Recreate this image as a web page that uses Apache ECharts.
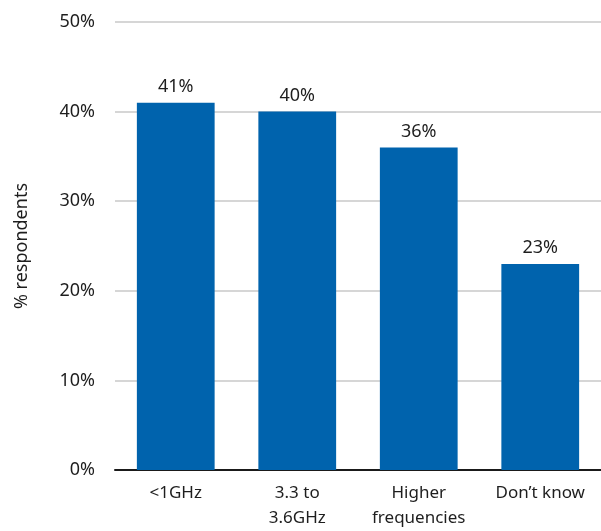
<!DOCTYPE html>
<html>
<head>
<meta charset="utf-8">
<script src="https://cdn.jsdelivr.net/npm/echarts@6/dist/echarts.min.js"></script>
<style>
  html, body { margin: 0; padding: 0; background: #fff; }
  #chart { width: 601px; height: 531px; }
</style>
</head>
<body>
<div id="chart"></div>
<script>
// Spectrum bands and share of respondents (%)
const categories = ['<1GHz', '3.3 to\n3.6GHz', 'Higher\nfrequencies', 'Don\u2019t know'];
const values = [41, 40, 36, 23];
const yTicks = [0, 10, 20, 30, 40, 50];

const font = 'Noto Sans';
const chart = echarts.init(document.getElementById('chart'));
chart.setOption({
  animation: false,
  grid: { left: 115, right: 0, top: 22, bottom: 59 },
  xAxis: {
    type: 'category',
    data: categories,
    axisTick: { show: false },
    axisLine: { lineStyle: { color: '#1a1a1a', width: 2 } },
    axisLabel: {
      interval: 0,
      hideOverlap: false,
      color: '#1e1e1e',
      fontFamily: font,
      fontSize: 17,
      margin: 11,
      lineHeight: 25
    }
  },
  yAxis: {
    type: 'value',
    min: yTicks[0],
    max: yTicks[yTicks.length - 1],
    interval: 10,
    name: '% respondents',
    nameLocation: 'middle',
    nameGap: 84,
    nameTextStyle: { color: '#1e1e1e', fontFamily: font, fontSize: 18 },
    axisLabel: { color: '#1e1e1e', fontFamily: font, fontSize: 18, margin: 20, formatter: '{value}%' },
    splitLine: { lineStyle: { color: '#c8c8c8', width: 1.5 } }
  },
  series: [{
    type: 'bar',
    data: values,
    barWidth: '64%',
    itemStyle: { color: '#0063AD' },
    label: {
      show: true,
      position: 'top',
      distance: 7,
      color: '#1e1e1e',
      fontFamily: font,
      fontSize: 18,
      formatter: p => p.value + '%'
    }
  }]
});
</script>
</body>
</html>
